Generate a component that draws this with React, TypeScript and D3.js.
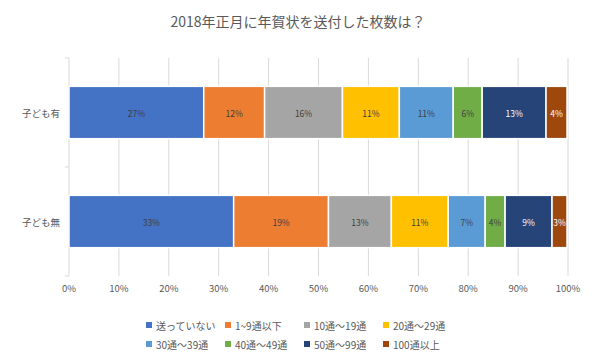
import React from "react";
import * as d3 from "d3";

const title = "2018年正月に年賀状を送付した枚数は？";
const categories = ["子ども有", "子ども無"];
const seriesNames = ["送っていない", "1~9通以下", "10通～19通", "20通～29通", "30通～39通", "40通～49通", "50通～99通", "100通以上"];
const seriesColors = ["#4472C4", "#ED7D31", "#A5A5A5", "#FFC000", "#5B9BD5", "#70AD47", "#264478", "#9E480E"];
const labelColors = ["#404040", "#404040", "#404040", "#404040", "#404040", "#404040", "#FFFFFF", "#FFFFFF"];
const valuesWithKids = [27, 12.2, 15.6, 11.4, 10.8, 5.8, 12.8, 4.2];
const valuesNoKids = [33, 19, 12.6, 11.4, 7.4, 4, 9.4, 3];
const xTicks = [0, 10, 20, 30, 40, 50, 60, 70, 80, 90, 100];

const W = 600;
const H = 360;
const FONT = "'Noto Sans CJK JP', 'Noto Sans', sans-serif";
const TEXT = "#595959";

export default function App() {
  const rows = [valuesWithKids, valuesNoKids];
  const x = d3.scaleLinear().domain([0, 100]).range([69, 568]);
  const y = d3.scaleBand<string>().domain(categories).range([58, 276]).paddingInner(0.52).paddingOuter(0.26);

  const legendX = d3.scaleBand<number>().domain([0, 1, 2, 3]).range([149, 465]);
  const legendY = [325, 344];

  return (
    <svg width={W} height={H} style={{ position: "absolute", left: 0, top: 0, background: "#fff" }} fontFamily={FONT}>
      <rect x={0} y={0} width={W} height={H} fill="#fff" />
      <text x={298} y={21} textAnchor="middle" dominantBaseline="central" fontSize={14} fill={TEXT}>
        {title}
      </text>
      {xTicks.map((t) => (
        <line key={"g" + t} x1={x(t)} x2={x(t)} y1={58} y2={276} stroke="#D9D9D9" strokeWidth={1} />
      ))}
      {[58, 167, 276].map((yy) => (
        <line key={"tk" + yy} x1={65} x2={69} y1={yy} y2={yy} stroke="#D9D9D9" strokeWidth={1} />
      ))}
      {xTicks.map((t) => (
        <text key={"xl" + t} x={x(t)} y={288} textAnchor="middle" dominantBaseline="central" fontSize={9.5} fill={TEXT}>
          {t + "%"}
        </text>
      ))}
      {categories.map((c, ci) => {
        const vals = rows[ci];
        const cum = d3.cumsum(vals);
        const y0 = y(c)!;
        const bh = y.bandwidth();
        return (
          <g key={c}>
            <text x={60} y={y0 + bh / 2} textAnchor="end" dominantBaseline="central" fontSize={9.5} fill={TEXT}>
              {c}
            </text>
            {vals.map((v, i) => {
              const start = i === 0 ? 0 : cum[i - 1];
              const x0 = x(start);
              const x1 = x(start + v);
              return (
                <g key={i}>
                  <rect x={x0} y={y0} width={x1 - x0} height={bh} fill={seriesColors[i]} stroke="#fff" strokeWidth={1.5} />
                  <text x={(x0 + x1) / 2} y={y0 + bh / 2} textAnchor="middle" dominantBaseline="central" fontSize={8.5} fill={labelColors[i]}>
                    {Math.round(v) + "%"}
                  </text>
                </g>
              );
            })}
          </g>
        );
      })}
      {seriesNames.map((s, i) => {
        const col = i % 4;
        const row = Math.floor(i / 4);
        const lx = legendX(col)!;
        const ly = legendY[row];
        return (
          <g key={s}>
            <rect x={lx - 3} y={ly - 3} width={6} height={6} fill={seriesColors[i]} />
            <text x={lx + 7} y={ly} dominantBaseline="central" fontSize={10} fill={TEXT}>
              {s}
            </text>
          </g>
        );
      })}
    </svg>
  );
}
